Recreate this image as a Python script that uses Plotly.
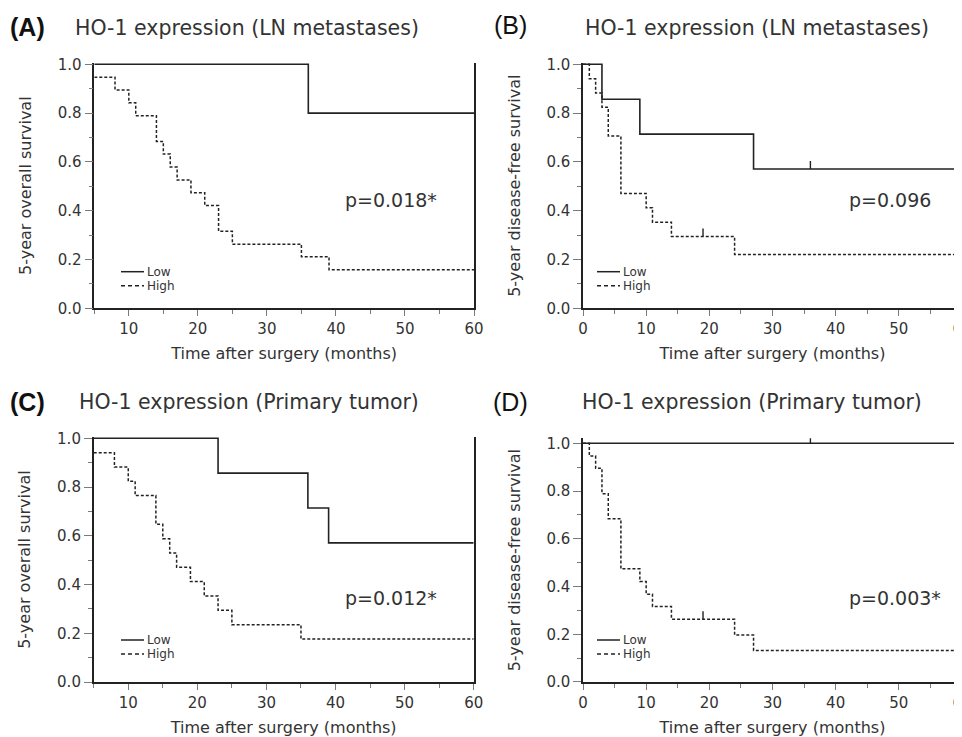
import plotly.graph_objects as go

# The page body keeps its default 8 px margin, so the figure is offset by 8 px.
PAGE_W, PAGE_H = 962, 737
OFF = 8
W, H = PAGE_W - OFF, PAGE_H - OFF

# ---------------- data ----------------
# (A) overall survival, LN metastases
A_low_t = [5, 36, 60]
A_low_s = [1.0, 0.8, 0.8]
A_low_cens = []
A_high_t = [5, 8, 10, 11, 14, 15, 16, 17, 19, 21, 23, 25, 35, 39, 60]
A_high_s = [0.947, 0.895, 0.842, 0.789, 0.684, 0.632, 0.579, 0.526, 0.474,
            0.421, 0.316, 0.263, 0.211, 0.158, 0.158]
A_high_cens = []
A_p = "p=0.018*"

# (B) disease-free survival, LN metastases
B_low_t = [0, 3, 9, 27, 60]
B_low_s = [1.0, 0.857, 0.714, 0.571, 0.571]
B_low_cens = [36]
B_high_t = [0, 1, 2, 3, 4, 6, 10, 11, 14, 24, 60]
B_high_s = [1.0, 0.941, 0.882, 0.824, 0.706, 0.471, 0.412, 0.353, 0.294, 0.221, 0.221]
B_high_cens = [19]
B_p = "p=0.096"

# (C) overall survival, primary tumor
C_low_t = [5, 23, 36, 39, 60]
C_low_s = [1.0, 0.857, 0.714, 0.571, 0.571]
C_low_cens = []
C_high_t = [5, 8, 10, 11, 14, 15, 16, 17, 19, 21, 23, 25, 35, 60]
C_high_s = [0.941, 0.882, 0.824, 0.765, 0.647, 0.588, 0.529, 0.471, 0.412,
            0.353, 0.294, 0.235, 0.176, 0.176]
C_high_cens = []
C_p = "p=0.012*"

# (D) disease-free survival, primary tumor
D_low_t = [0, 60]
D_low_s = [1.0, 1.0]
D_low_cens = [36]
D_high_t = [0, 1, 2, 3, 4, 6, 9, 10, 11, 14, 24, 27, 60]
D_high_s = [1.0, 0.947, 0.895, 0.789, 0.684, 0.474, 0.421, 0.368, 0.316,
            0.263, 0.197, 0.132, 0.132]
D_high_cens = [19]
D_p = "p=0.003*"

panel_letters = ["(A)", "(B)", "(C)", "(D)"]
panel_titles = ["HO-1 expression (LN metastases)", "HO-1 expression (LN metastases)",
                "HO-1 expression (Primary tumor)", "HO-1 expression (Primary tumor)"]
y_titles = ["5-year overall survival", "5-year disease-free survival",
            "5-year overall survival", "5-year disease-free survival"]
x_title = "Time after surgery (months)"
legend_labels = ["Low", "High"]

# ---------------- layout geometry (page pixels) ----------------
geo = [
    dict(l=94.3, r=474.0, xr=[5, 60], y0=308.3, py=244.0, ymax=1.005, mirror=True),
    dict(l=583.0, r=962.0, xr=[0, 60], y0=308.3, py=244.0, ymax=1.005, mirror=False),
    dict(l=93.7, r=473.7, xr=[5, 60], y0=682.0, py=243.7, ymax=1.005, mirror=True),
    dict(l=583.0, r=962.0, xr=[0, 60], y0=682.0, py=238.7, ymax=1.021, mirror=False),
]
letter_pos = [(8, 27, True), (492, 25, False), (8, 402, True), (491, 402, False)]
title_pos = [(73, 28), (583, 28), (77, 402), (580, 402)]
p_pos = [(343, 200), (847, 200), (343, 598), (847, 598)]
leg_pos = [(121, 271.7), (597, 271.7), (121, 640.0), (597, 640.0)]
LEG_GAP = 14

INK = "#222222"
TXT = "#333333"
TICKC = "#7a7a7a"
HIGH_DASH = "3px,2px"

def px(x):
    return (x - OFF) / W

def py(y):
    return 1 - (y - OFF) / H

def surv_at(ts, ss, c):
    val = ss[0]
    for t, s in zip(ts, ss):
        if t <= c:
            val = s
    return val

data = [
    (A_low_t, A_low_s, A_low_cens, A_high_t, A_high_s, A_high_cens, A_p),
    (B_low_t, B_low_s, B_low_cens, B_high_t, B_high_s, B_high_cens, B_p),
    (C_low_t, C_low_s, C_low_cens, C_high_t, C_high_s, C_high_cens, C_p),
    (D_low_t, D_low_s, D_low_cens, D_high_t, D_high_s, D_high_cens, D_p),
]

fig = go.Figure()
annotations = []
shapes = []
CENS_H = 0.033

for i, (lt, ls, lc, ht, hs, hc, pval) in enumerate(data):
    n = "" if i == 0 else str(i + 1)
    xa, ya = "x" + n, "y" + n
    g = geo[i]
    fig.add_trace(go.Scatter(x=lt, y=ls, mode="lines", name="Low", showlegend=False,
                             line=dict(shape="hv", color=INK, width=1.6),
                             xaxis=xa, yaxis=ya, hoverinfo="x+y"))
    fig.add_trace(go.Scatter(x=ht, y=hs, mode="lines", name="High", showlegend=False,
                             line=dict(shape="hv", color=INK, width=1.5, dash=HIGH_DASH),
                             xaxis=xa, yaxis=ya, hoverinfo="x+y"))
    for cens, ts, ss in ((lc, lt, ls), (hc, ht, hs)):
        if cens:
            cx, cy = [], []
            for c in cens:
                s = surv_at(ts, ss, c)
                cx += [c, c, None]
                cy += [s, s + CENS_H, None]
            fig.add_trace(go.Scatter(x=cx, y=cy, mode="lines", showlegend=False,
                                     line=dict(color=INK, width=1.4),
                                     xaxis=xa, yaxis=ya, hoverinfo="skip"))
    yb_px = g["y0"]
    yt_px = g["y0"] - g["py"] * g["ymax"]
    fig.layout["xaxis" + n] = dict(
        domain=[px(g["l"]), min(1.0, px(g["r"]))], range=g["xr"], anchor=ya,
        showline=True, linecolor=INK, linewidth=1.5, showgrid=False, zeroline=False,
        tick0=0, dtick=10, ticks="outside", ticklen=6, tickcolor=TICKC, tickwidth=1,
        minor=dict(dtick=5, tick0=0, ticks="outside", ticklen=4, tickcolor=TICKC, showgrid=False),
        tickfont=dict(family="DejaVu Sans", size=15, color=TXT),
        ticklabeloverflow="allow",
        title=dict(text=x_title, font=dict(family="DejaVu Sans", size=16, color=TXT), standoff=11),
        automargin=False, fixedrange=True,
    )
    fig.layout["yaxis" + n] = dict(
        domain=[py(yb_px), py(yt_px)], range=[0, g["ymax"]], anchor=xa,
        showline=True, linecolor=INK, linewidth=1.5, mirror=g["mirror"],
        showgrid=False, zeroline=False,
        tick0=0, dtick=0.2, tickformat=".1f", ticks="outside", ticklen=8,
        tickcolor=TICKC, tickwidth=1,
        minor=dict(dtick=0.1, tick0=0, ticks="outside", ticklen=4, tickcolor=TICKC, showgrid=False),
        tickfont=dict(family="DejaVu Sans", size=15, color=TXT),
        title=dict(text=y_titles[i], font=dict(family="DejaVu Sans", size=16, color=TXT), standoff=22),
        automargin=False, fixedrange=True,
    )
    lx, ly, bold = letter_pos[i]
    annotations.append(dict(text=("<b>%s</b>" % panel_letters[i]) if bold else panel_letters[i],
                            x=px(lx), y=py(ly), xref="paper", yref="paper",
                            xanchor="left", yanchor="middle", showarrow=False,
                            font=dict(family="Liberation Sans", size=25, color="#111111")))
    tx, ty = title_pos[i]
    annotations.append(dict(text=panel_titles[i], x=px(tx), y=py(ty), xref="paper", yref="paper",
                            xanchor="left", yanchor="middle", showarrow=False,
                            font=dict(family="DejaVu Sans", size=20.5, color=TXT)))
    ppx, ppy = p_pos[i]
    annotations.append(dict(text=pval, x=px(ppx), y=py(ppy), xref="paper", yref="paper",
                            xanchor="left", yanchor="middle", showarrow=False,
                            font=dict(family="DejaVu Sans", size=19, color=TXT)))
    gx, gy = leg_pos[i]
    for k, (lab, dash) in enumerate(zip(legend_labels, ["solid", "4px,3px"])):
        yy = gy + k * LEG_GAP
        shapes.append(dict(type="line", xref="paper", yref="paper",
                           x0=px(gx), x1=px(gx + 23), y0=py(yy), y1=py(yy),
                           line=dict(color=INK, width=1.5, dash=dash)))
        annotations.append(dict(text=lab, x=px(gx + 24), y=py(yy), xref="paper", yref="paper",
                                xanchor="left", yanchor="middle", showarrow=False,
                                font=dict(family="DejaVu Sans", size=12, color=TXT)))

fig.update_layout(
    width=W, height=H, margin=dict(l=0, r=0, t=0, b=0),
    paper_bgcolor="white", plot_bgcolor="white",
    showlegend=False, annotations=annotations, shapes=shapes,
)

fig.write_html("out.html")
